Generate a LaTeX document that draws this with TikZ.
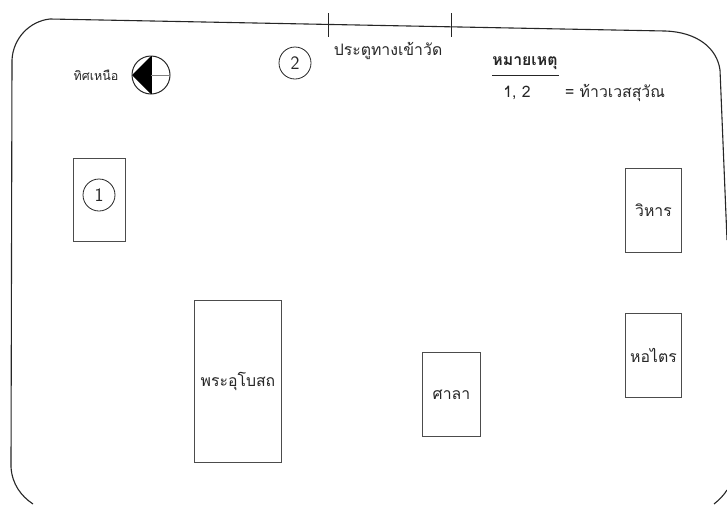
\documentclass[tikz,border=0pt]{standalone}
\usepackage{fontspec}
\newfontfamily\thaifont[Script=Thai]{Loma}
\definecolor{ink}{gray}{0.15}
\definecolor{boxline}{gray}{0.3}
\tikzset{
  x=1pt,y=-1pt,
  every node/.style={font=\thaifont\fontsize{15.8}{18}\selectfont,text=ink,inner sep=0pt},
  bldg/.style={draw=boxline,line width=0.9pt,rectangle,anchor=north west},
  numcirc/.style={draw=ink,line width=0.8pt,circle,minimum size=32pt,font=\fontsize{19}{21}\selectfont\sffamily},
  wall/.style={draw=black!85,line width=1.1pt},
  tick/.style={draw=black!85,line width=0.9pt}
}
\begin{document}
\begin{tikzpicture}
\useasboundingbox (0,0) rectangle (727,504);
\fill[white] (0,0) rectangle (727,504);
% outer wall
\draw[wall] (727,240) -- (720,70) .. controls (717,48) and (697,32) .. (665,31)
  -- (50,19) .. controls (30,21) and (13,38) .. (12,60)
  -- (11,467) .. controls (12,484) and (21,496) .. (33,504);
\draw[wall] (714,504) .. controls (719,500) and (724,495) .. (727,490);
% gate
\coordinate (g1a) at (328,13); \coordinate (g1b) at (328,37);
\coordinate (g2a) at (451,13); \coordinate (g2b) at (451,37);
\draw[tick] (g1a) -- (g1b);
\draw[tick] (g2a) -- (g2b);
\node (gate) at (388,51) {ประตูทางเข้าวัด};
% compass
\node[font=\thaifont\fontsize{12.5}{14}\selectfont] (northlabel) at (96,75) {ทิศเหนือ};
\coordinate (cc) at (151,75);
\fill[black] (132,75) -- (151,56) -- (151,94) -- cycle;
\draw[black!85,line width=1pt] (cc) circle[radius=19];
\draw[black,line width=1pt] (151,56) -- (151,94);
\draw[gray,line width=0.5pt] (cc) -- (170,75);
% notes
\node (c2) [numcirc] at (295,63) {2};
\node[font=\thaifont\bfseries\fontsize{15.8}{18}\selectfont] (note) at (525,63) {หมายเหตุ};
\coordinate (ula) at (492,75); \coordinate (ulb) at (559,75);
\draw[ink,line width=0.9pt] (ula) -- (ulb);
\node (nums) at (517,93) {1, 2};
\node[anchor=west] (legend) at (565,93) {= ท้าวเวสสุวัณ};
% buildings
\node[bldg,minimum width=52pt,minimum height=83pt] (b1) at (73,158) {};
\node (c1) [numcirc] at (99,195) {1};
\node[bldg,minimum width=56pt,minimum height=84pt] (vihan) at (625,168) {};
\node at (vihan.center) {วิหาร};
\node[bldg,minimum width=56pt,minimum height=84pt] (hotrai) at (625,313) {};
\node at (hotrai.center) {หอไตร};
\node[bldg,minimum width=58pt,minimum height=84pt] (sala) at (422,352) {};
\node at (sala.center) {ศาลา};
\node[bldg,minimum width=87pt,minimum height=162pt] (ubosot) at (194,300) {};
\node at (ubosot.center) {พระอุโบสถ};
\end{tikzpicture}
\end{document}
